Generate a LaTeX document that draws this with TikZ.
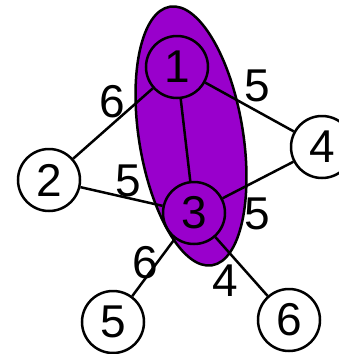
\documentclass[tikz,border=0pt]{standalone}
\usepackage{fontspec}
\setmainfont{Liberation Sans}
\usepackage{xcolor}
\definecolor{clusterpurple}{RGB}{153,0,204}

\begin{document}
\begin{tikzpicture}[
    x=1pt, y=-1pt,
    vertex/.style={circle, draw, line width=2.5pt, minimum size=62pt, inner sep=0pt, font=\fontsize{46}{54}\selectfont},
    weight/.style={inner sep=0pt, font=\fontsize{46}{54}\selectfont},
    edge/.style={line width=2.5pt}
]
\useasboundingbox (0,0) rectangle (338,354);

% Cluster
\draw[line width=2.5pt, fill=clusterpurple, rotate around={-80.75:(191,136)}] (191,136) ellipse [x radius=131, y radius=52];

% Vertices
\node[vertex] (v1) at (177,67) {1};
\node[vertex] (v3) at (194,213) {3};
\node[vertex, fill=white] (v2) at (49,180) {2};
\node[vertex, fill=white] (v4) at (322,147) {4};
\node[vertex, fill=white] (v5) at (113,322) {5};
\node[vertex, fill=white] (v6) at (289,320) {6};

% Edges
\draw[edge] (v1) -- (v2);
\draw[edge] (v1) -- (v3);
\draw[edge] (v1) -- (v4);
\draw[edge] (v2) -- (v3);
\draw[edge] (v3) -- (v4);
\draw[edge] (v3) -- (v5);
\draw[edge] (v3) -- (v6);

% Weights
\node[weight] (w12) at (112,102) {6};
\node[weight] (w14) at (257,86) {5};
\node[weight] (w23) at (128,181) {5};
\node[weight] (w34) at (257,214) {5};
\node[weight] (w35) at (145,263) {6};
\node[weight] (w36) at (225,281) {4};

\end{tikzpicture}
\end{document}
